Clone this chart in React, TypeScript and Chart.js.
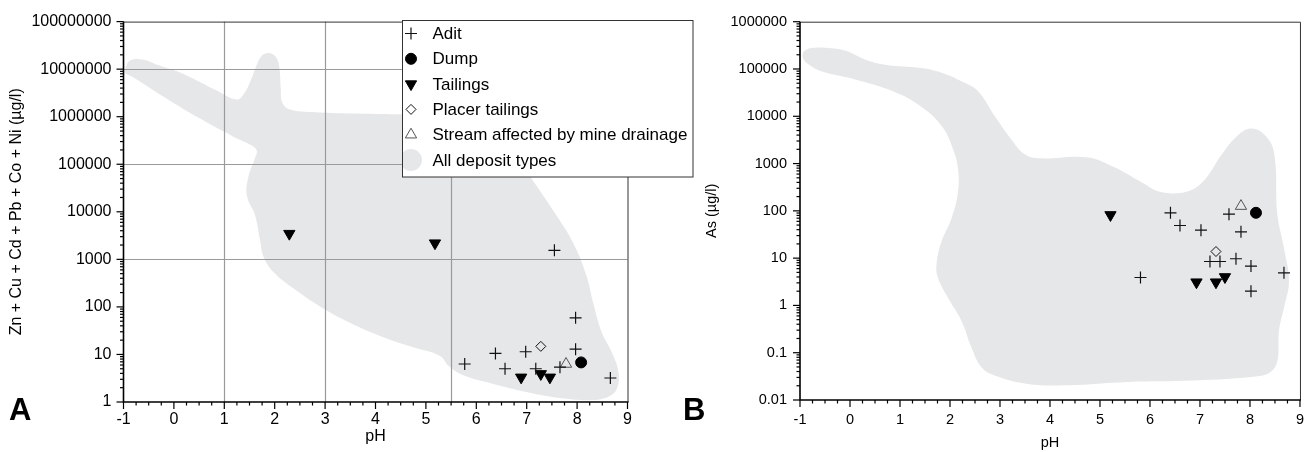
import React, { useEffect, useRef } from "react";
import { Chart, registerables } from "chart.js";
import { drawPoint } from "chart.js/helpers";

Chart.register(...registerables);

const FONT_FAMILY = "'Liberation Sans', Arial, Helvetica, sans-serif";

// ---------- axes ----------
const pHMin = -1;
const pHMax = 9;
const metalMin = 1;
const metalMax = 100000000;
const asMin = 0.01;
const asMax = 1000000;
const metalDecades = [1, 10, 100, 1000, 10000, 100000, 1000000, 10000000, 100000000];
const asDecades = [0.01, 0.1, 1, 10, 100, 1000, 10000, 100000, 1000000];

// Ficklin-style division lines in panel A
const ficklinPH = [1, 3, 5.5];
const ficklinMetal = [1000, 100000, 10000000];

const seriesNames = [
  "Adit",
  "Dump",
  "Tailings",
  "Placer tailings",
  "Stream affected by mine drainage",
  "All deposit types",
];

// ---------- Panel A: Zn + Cu + Cd + Pb + Co + Ni ----------
const aditA_pH = [7.55, 7.97, 7.97, 6.38, 6.98, 5.77, 6.57, 7.18, 7.66, 8.66];
const aditA_metal = [1550, 59, 12.9, 10.5, 11.4, 6.3, 5.0, 5.0, 5.4, 3.2];
const dumpA_pH = [8.08];
const dumpA_metal = [6.8];
const tailingsA_pH = [2.29, 5.18, 6.89, 7.28, 7.46];
const tailingsA_metal = [3470, 2190, 3.3, 3.9, 3.3];
const placerA_pH = [7.28];
const placerA_metal = [14.8];
const streamA_pH = [7.78];
const streamA_metal = [6.3];

// "All deposit types" field outline (pH, log10 value)
const regionA_pH = [
  -0.97, -0.87, -0.6, -0.3, 0.19, 0.85, 1.25, 1.4, 1.52, 1.63, 1.72, 1.82, 1.97, 2.06, 2.1, 2.12,
  2.15, 2.3, 2.9, 4.54, 5.54, 6.21, 6.73, 7.13, 7.53, 7.93, 8.19, 8.32, 8.49, 8.69, 8.82, 8.79,
  8.62, 8.32, 7.79, 7.13, 6.34, 5.74, 5.45, 5.28, 4.75, 4.09, 3.43, 2.9, 2.37, 1.97, 1.78, 1.71,
  1.61, 1.45, 1.48, 1.61, 1.64, 1.44, 1.18, 0.52, -0.14, -0.81, -0.97,
];
const regionA_logMetal = [
  7.0, 7.18, 7.2, 7.08, 6.9, 6.55, 6.36, 6.5, 6.75, 7.05, 7.25, 7.33, 7.31, 7.18, 6.95, 6.6, 6.3,
  6.15, 6.09, 6.05, 6.03, 5.89, 5.27, 4.65, 4.02, 3.33, 2.64, 2.08, 1.46, 1.04, 0.63, 0.28, 0.11,
  0.04, 0.07, 0.18, 0.38, 0.56, 0.76, 0.97, 1.15, 1.39, 1.7, 2.01, 2.39, 2.74, 3.05, 3.4, 3.93,
  4.33, 4.75, 5.13, 5.3, 5.45, 5.58, 5.96, 6.38, 6.83, 6.92,
];

// ---------- Panel B: As ----------
const aditB_pH = [6.41, 6.6, 7.02, 7.58, 7.82, 7.2, 7.4, 7.72, 8.02, 8.68, 5.81, 8.02];
const aditB_as = [91, 49, 39, 85, 36, 8.5, 8.5, 9.7, 6.8, 4.9, 3.9, 2.0];
const dumpB_pH = [8.12];
const dumpB_as = [91];
const tailingsB_pH = [5.21, 6.93, 7.32, 7.5];
const tailingsB_as = [82, 3.1, 3.1, 4.0];
const placerB_pH = [7.32];
const placerB_as = [13.8];
const streamB_pH = [7.82];
const streamB_as = [126];

const regionB_pH = [
  -0.93, -0.8, -0.37, -0.04, 0.3, 0.7, 1.43, 1.83, 2.23, 2.56, 2.89, 3.22, 3.49, 3.76, 4.76, 5.29,
  5.82, 6.22, 6.75, 7.08, 7.42, 7.75, 8.02, 8.28, 8.48, 8.55, 8.68, 8.78, 8.68, 8.58, 8.55, 8.41,
  8.15, 6.88, 5.55, 4.36, 3.56, 2.89, 2.63, 2.43, 2.23, 1.96, 1.76, 1.73, 1.83, 2.03, 2.16, 2.16,
  2.06, 1.83, 1.36, 0.76, 0.1, -0.57, -0.87, -0.95,
];
const regionB_logAs = [
  5.37, 5.44, 5.44, 5.37, 5.2, 5.09, 5.02, 4.92, 4.74, 4.53, 4.01, 3.52, 3.2, 3.11, 3.13, 2.92,
  2.61, 2.4, 2.41, 2.64, 3.17, 3.59, 3.74, 3.62, 3.24, 1.91, 1.21, 0.51, -0.05, -0.54, -1.17,
  -1.41, -1.5, -1.59, -1.62, -1.69, -1.66, -1.48, -1.31, -0.89, -0.33, 0.16, 0.58, 0.86, 1.35,
  1.84, 2.4, 2.89, 3.31, 3.8, 4.25, 4.57, 4.78, 4.95, 5.13, 5.27,
];

// ---------- styles ----------
const REGION_COLOR = "#e6e7e8";
const markerStyles = [
  { pointStyle: "cross", radius: 6, rotation: 0, fill: "rgba(0,0,0,0)", stroke: "#111", width: 1.2 },
  { pointStyle: "circle", radius: 5.5, rotation: 0, fill: "#000", stroke: "#000", width: 1 },
  { pointStyle: "triangle", radius: 6.5, rotation: 180, fill: "#000", stroke: "#000", width: 1 },
  { pointStyle: "rectRot", radius: 5, rotation: 0, fill: "rgba(0,0,0,0)", stroke: "#111", width: 1 },
  { pointStyle: "triangle", radius: 6.5, rotation: 0, fill: "rgba(0,0,0,0)", stroke: "#555", width: 1 },
];

type PanelDef = {
  series: [number[], number[]][];
  regionPH: number[];
  regionLog: number[];
  yMin: number;
  yMax: number;
  decades: number[];
  yTitle: string;
  letter: string;
  letterX: number;
  padding: { left: number; right: number; top: number };
  yAxisWidth: number;
  xAxisHeight: number;
  yTitlePad: number;
  xTitlePad: number;
  xTickPad: number;
  yTickPad: number;
  fontSize: number;
  ficklin: boolean;
  legend: boolean;
};

const fmt = (v: number) => {
  if (v >= 1) return String(Math.round(v));
  return String(v);
};

function buildConfig(p: PanelDef): any {
  const datasets: any[] = p.series.map(([xs, ys], i) => {
    const m = markerStyles[i];
    return {
      type: "scatter",
      label: seriesNames[i],
      data: xs.map((x, k) => ({ x, y: ys[k] })),
      pointStyle: m.pointStyle,
      pointRadius: m.radius,
      pointRotation: m.rotation,
      pointBackgroundColor: m.fill,
      pointBorderColor: m.stroke,
      pointBorderWidth: m.width,
      showLine: false,
      order: 1,
    };
  });
  const region = p.regionPH.map((x, k) => ({ x, y: Math.pow(10, p.regionLog[k]) }));
  region.push({ ...region[0] });
  datasets.push({
    type: "line",
    label: seriesNames[5],
    data: region,
    showLine: true,
    fill: "shape",
    backgroundColor: REGION_COLOR,
    borderColor: REGION_COLOR,
    borderWidth: 0,
    pointRadius: 0,
    tension: 0.4,
    order: 10,
  });
  const regionIndex = datasets.length - 1;

  const panelPlugin = {
    id: "panelDecor" + p.letter,
    afterDatasetDraw(chart: any, args: any) {
      if (args.index !== regionIndex || !p.ficklin) return;
      const { ctx, chartArea } = chart;
      const xs = chart.scales.x;
      const ys = chart.scales.y;
      ctx.save();
      ctx.strokeStyle = "#9a9a9a";
      ctx.lineWidth = 1.2;
      ficklinPH.forEach((v) => {
        const px = Math.round(xs.getPixelForValue(v)) + 0.5;
        ctx.beginPath();
        ctx.moveTo(px, chartArea.top);
        ctx.lineTo(px, chartArea.bottom);
        ctx.stroke();
      });
      ficklinMetal.forEach((v) => {
        const py = Math.round(ys.getPixelForValue(v)) + 0.5;
        ctx.beginPath();
        ctx.moveTo(chartArea.left, py);
        ctx.lineTo(chartArea.right, py);
        ctx.stroke();
      });
      ctx.restore();
    },
    afterDraw(chart: any) {
      const { ctx, chartArea } = chart;
      const xs = chart.scales.x;
      const ys = chart.scales.y;
      const { left, right, top, bottom } = chartArea;
      ctx.save();
      // frame (top/right)
      ctx.strokeStyle = "#333";
      ctx.lineWidth = 1;
      ctx.beginPath();
      ctx.moveTo(left, top + 0.5);
      ctx.lineTo(right + 0.5, top + 0.5);
      ctx.lineTo(right + 0.5, bottom);
      ctx.stroke();
      // axes (left/bottom)
      ctx.strokeStyle = "#000";
      ctx.lineWidth = 1.6;
      ctx.beginPath();
      ctx.moveTo(left, top);
      ctx.lineTo(left, bottom);
      ctx.lineTo(right + 1, bottom);
      ctx.stroke();
      // y ticks (log, major + minor)
      ctx.lineWidth = 1.2;
      for (let e = Math.round(Math.log10(p.yMin)); e <= Math.round(Math.log10(p.yMax)); e++) {
        for (let k = 1; k <= 9; k++) {
          const v = k * Math.pow(10, e);
          if (v > p.yMax * 1.0001) continue;
          const py = ys.getPixelForValue(v);
          const len = k === 1 ? 7 : 3.5;
          ctx.beginPath();
          ctx.moveTo(left - len, py);
          ctx.lineTo(left, py);
          ctx.stroke();
        }
      }
      // x ticks (integers major, quarters minor)
      for (let i = 0; i <= (pHMax - pHMin) * 4; i++) {
        const v = pHMin + i / 4;
        const px = xs.getPixelForValue(v);
        const len = i % 4 === 0 ? 7 : 3.5;
        ctx.beginPath();
        ctx.moveTo(px, bottom);
        ctx.lineTo(px, bottom + len);
        ctx.stroke();
      }
      // panel letter
      ctx.fillStyle = "#000";
      ctx.font = `bold 31px ${FONT_FAMILY}`;
      ctx.textAlign = "left";
      ctx.textBaseline = "alphabetic";
      ctx.fillText(p.letter, p.letterX, 420);

      // legend
      if (p.legend) {
        const bx = 402.5;
        const by = 20.5;
        const bw = 290.5;
        const bh = 156.5;
        ctx.fillStyle = "#fff";
        ctx.fillRect(bx, by, bw, bh);
        ctx.strokeStyle = "#333";
        ctx.lineWidth = 1;
        ctx.strokeRect(bx, by, bw, bh);
        ctx.font = `17px ${FONT_FAMILY}`;
        ctx.textBaseline = "middle";
        seriesNames.forEach((name, i) => {
          const cy = 33.5 + i * 25.3;
          if (i < 5) {
            const m = markerStyles[i];
            ctx.fillStyle = m.fill;
            ctx.strokeStyle = m.stroke;
            ctx.lineWidth = m.width;
            drawPoint(
              ctx,
              { pointStyle: m.pointStyle, radius: m.radius, rotation: m.rotation, borderWidth: m.width } as any,
              411,
              cy
            );
          } else {
            ctx.save();
            ctx.beginPath();
            ctx.rect(bx + 0.5, by, bw, bh);
            ctx.clip();
            ctx.fillStyle = REGION_COLOR;
            ctx.beginPath();
            ctx.arc(411, cy, 11, 0, Math.PI * 2);
            ctx.fill();
            ctx.restore();
          }
          ctx.fillStyle = "#000";
          ctx.fillText(name, 432.5, cy + 1);
        });
      }
      ctx.restore();
    },
  };

  const font = { family: FONT_FAMILY, size: p.fontSize };
  return {
    type: "scatter",
    data: { datasets },
    options: {
      animation: false,
      responsive: false,
      maintainAspectRatio: false,
      events: [],
      layout: { padding: { left: p.padding.left, right: p.padding.right, top: p.padding.top, bottom: 0 } },
      plugins: { legend: { display: false }, tooltip: { enabled: false } },
      scales: {
        x: {
          type: "linear",
          min: pHMin,
          max: pHMax,
          grid: { display: false, drawTicks: false },
          border: { display: false },
          ticks: {
            stepSize: 1,
            padding: p.xTickPad,
            color: "#000",
            font,
            maxRotation: 0,
            autoSkip: false,
            callback: (v: any) => String(v),
          },
          title: {
            display: true,
            text: "pH",
            color: "#000",
            font,
            padding: { top: 0, bottom: p.xTitlePad },
          },
          afterFit: (s: any) => {
            s.height = p.xAxisHeight;
          },
        },
        y: {
          type: "logarithmic",
          min: p.yMin,
          max: p.yMax,
          grid: { display: false, drawTicks: false },
          border: { display: false },
          afterBuildTicks: (s: any) => {
            s.ticks = p.decades.map((v) => ({ value: v, major: true }));
          },
          ticks: {
            padding: p.yTickPad,
            color: "#000",
            font,
            autoSkip: false,
            callback: (v: any) => fmt(Number(v)),
          },
          title: {
            display: true,
            text: p.yTitle,
            color: "#000",
            font,
            padding: { top: p.yTitlePad, bottom: 0 },
          },
          afterFit: (s: any) => {
            s.width = p.yAxisWidth;
          },
        },
      },
    },
    plugins: [panelPlugin],
  };
}

const panelA: PanelDef = {
  series: [
    [aditA_pH, aditA_metal],
    [dumpA_pH, dumpA_metal],
    [tailingsA_pH, tailingsA_metal],
    [placerA_pH, placerA_metal],
    [streamA_pH, streamA_metal],
  ],
  regionPH: regionA_pH,
  regionLog: regionA_logMetal,
  yMin: metalMin,
  yMax: metalMax,
  decades: metalDecades,
  yTitle: "Zn + Cu + Cd + Pb + Co + Ni (µg/l)",
  letter: "A",
  letterX: 9,
  padding: { left: 0, right: 1315 - 627.5, top: 17 },
  yAxisWidth: 123.5,
  xAxisHeight: 50,
  yTitlePad: 7.4,
  xTitlePad: 5.4,
  xTickPad: 8,
  yTickPad: 12,
  fontSize: 16,
  ficklin: true,
  legend: true,
};

const panelB: PanelDef = {
  series: [
    [aditB_pH, aditB_as],
    [dumpB_pH, dumpB_as],
    [tailingsB_pH, tailingsB_as],
    [placerB_pH, placerB_as],
    [streamB_pH, streamB_as],
  ],
  regionPH: regionB_pH,
  regionLog: regionB_logAs,
  yMin: asMin,
  yMax: asMax,
  decades: asDecades,
  yTitle: "As (µg/l)",
  letter: "B",
  letterX: 683,
  padding: { left: 660, right: 14, top: 20 },
  yAxisWidth: 140,
  xAxisHeight: 52,
  yTitlePad: 43,
  xTitlePad: 0,
  xTickPad: 11,
  yTickPad: 13,
  fontSize: 14.5,
  ficklin: false,
  legend: false,
};

function PanelCanvas({ def }: { def: PanelDef }) {
  const ref = useRef<HTMLCanvasElement | null>(null);
  useEffect(() => {
    if (!ref.current) return;
    const chart = new Chart(ref.current, buildConfig(def));
    return () => chart.destroy();
  }, [def]);
  return (
    <canvas
      ref={ref}
      width={1315}
      height={452}
      style={{ position: "absolute", left: 0, top: 0, width: 1315, height: 452 }}
    />
  );
}

export default function App() {
  useEffect(() => {
    document.body.style.margin = "0";
    document.body.style.background = "#fff";
  }, []);
  return (
    <div style={{ position: "relative", width: 1315, height: 452, background: "#fff", overflow: "hidden" }}>
      <PanelCanvas def={panelA} />
      <PanelCanvas def={panelB} />
    </div>
  );
}
